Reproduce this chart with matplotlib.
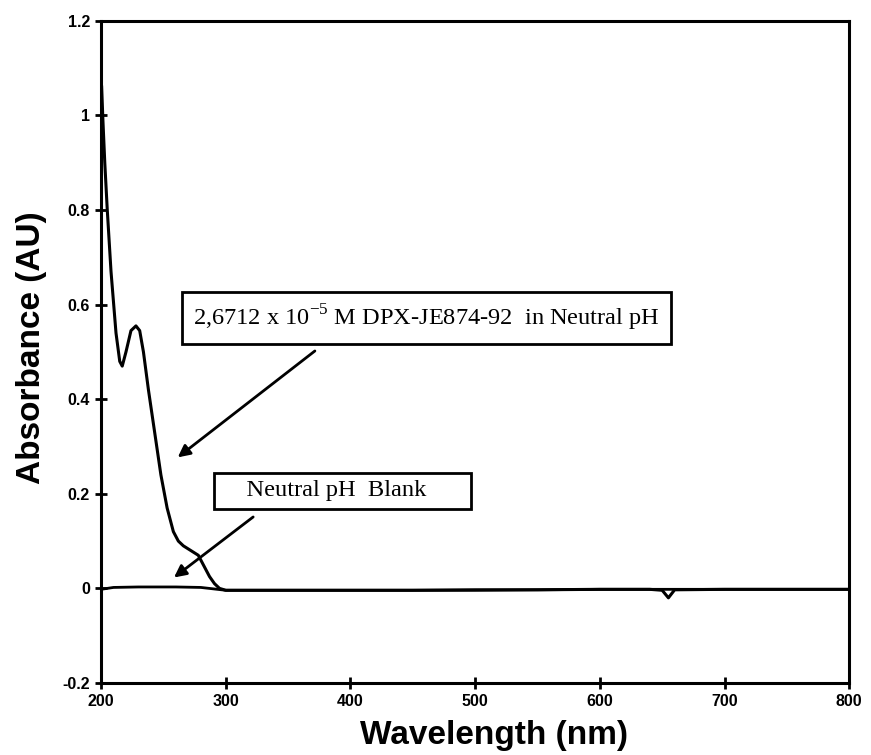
import numpy as np
import matplotlib
matplotlib.use('Agg')
import matplotlib.pyplot as plt

# sample spectrum (nm, AU)
sample_nm = [200.5, 201.5, 203, 205, 208, 212, 215, 217, 220, 224, 228, 231, 234,
             238, 243, 248, 253, 258, 262, 266, 272, 278, 283, 287, 291, 295, 300,
             350, 400, 450, 500, 550, 600, 640, 650, 655, 660, 700, 750, 800]
sample_au = [1.06, 0.99, 0.90, 0.80, 0.67, 0.54, 0.48, 0.47, 0.50, 0.545, 0.555, 0.545, 0.50,
             0.42, 0.33, 0.24, 0.17, 0.12, 0.10, 0.09, 0.08, 0.07, 0.045, 0.025, 0.01, 0.0, -0.004,
             -0.004, -0.004, -0.004, -0.003, -0.003, -0.002, -0.002, -0.004, -0.02, -0.003, -0.002, -0.002, -0.002]

# blank, essentially flat
blank_nm = [200, 210, 230, 260, 280, 300, 400, 500, 600, 700, 800]
blank_au = [-0.002, 0.002, 0.003, 0.003, 0.002, -0.004, -0.004, -0.004, -0.002, -0.002, -0.002]

label_sample = r'2,6712 x 10$^{\mathregular{-5}}$ M DPX-JE874-92  in Neutral pH'
label_blank = '    Neutral pH  Blank      '

plt.rcParams['font.family'] = ['Liberation Sans', 'DejaVu Sans']

fig = plt.figure(figsize=(8.71, 7.55), dpi=100)
ax = fig.add_axes([0.116, 0.0954, 0.859, 0.877])

ax.plot(blank_nm, blank_au, color='black', lw=2.0)
ax.plot(sample_nm, sample_au, color='black', lw=2.2)

ax.set_xlim(200, 800)
ax.set_ylim(-0.2, 1.2)
ax.set_xticks(np.arange(200, 801, 100))
ax.set_yticks([-0.2, 0, 0.2, 0.4, 0.6, 0.8, 1, 1.2])
ax.set_yticklabels(['-0.2', '0', '0.2', '0.4', '0.6', '0.8', '1', '1.2'])
for s in ax.spines.values():
    s.set_linewidth(2.2)
ax.tick_params(direction='inout', length=9, width=2, labelsize=11.5)
for lbl in ax.get_xticklabels() + ax.get_yticklabels():
    lbl.set_fontweight('bold')

ax.set_xlabel('Wavelength (nm)', fontsize=24, fontweight='bold', va='center')
ax.set_ylabel('Absorbance (AU)', fontsize=24, fontweight='bold', va='center')
ax.xaxis.set_label_coords(0.525, -0.079)
ax.yaxis.set_label_coords(-0.093, 0.506)

serif = ['Liberation Serif', 'DejaVu Serif']
box1 = dict(boxstyle='square,pad=0.45', fc='white', ec='black', lw=2)
box2 = dict(boxstyle='square,pad=0.32', fc='white', ec='black', lw=2)
arrow = dict(arrowstyle='-|>', color='black', lw=2, mutation_scale=18, shrinkA=0, shrinkB=0)

ax.text(274, 0.572, label_sample, fontsize=17.6, family=serif, va='center', ha='left', bbox=box1)
ax.annotate('', xy=(261.5, 0.277), xytext=(371.5, 0.502), arrowprops=arrow)

ax.text(297, 0.206, label_blank, fontsize=17.6, family=serif, va='center', ha='left', bbox=box2)
ax.annotate('', xy=(258.5, 0.023), xytext=(322, 0.151), arrowprops=arrow)

fig.savefig('out.png', dpi=100)
